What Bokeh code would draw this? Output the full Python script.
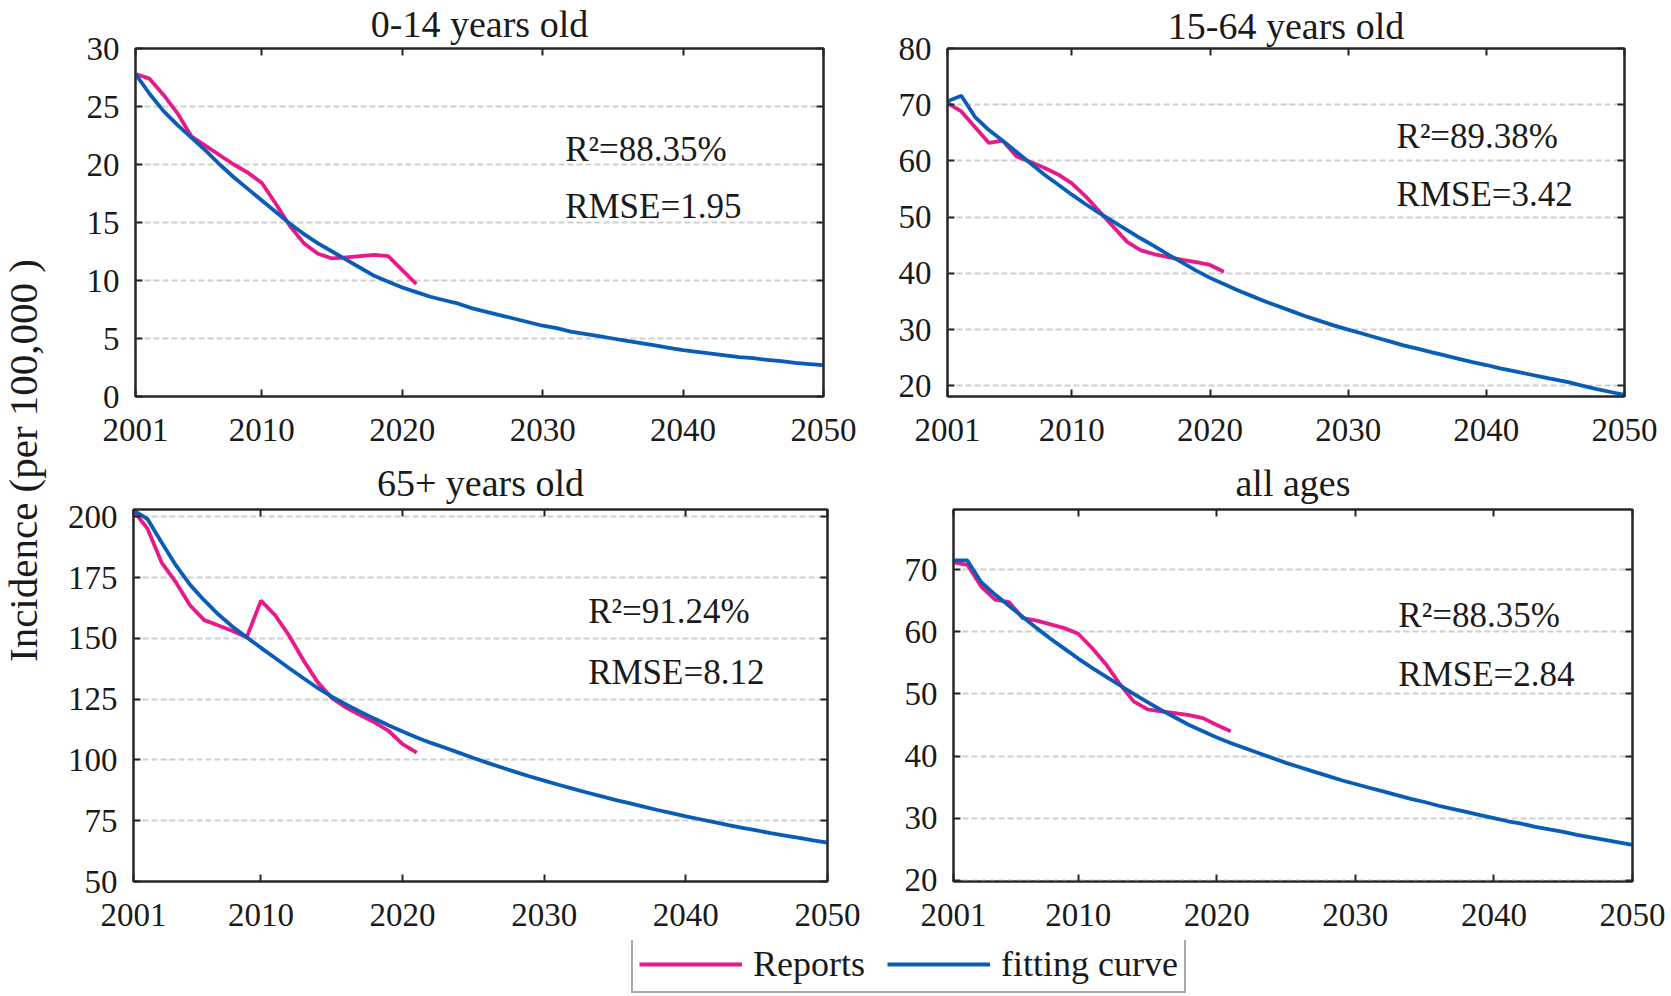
import math
from bokeh.plotting import figure
from bokeh.models import LinearAxis, FixedTicker, Label, Legend, LegendItem, Range1d
from bokeh.layouts import row, column
from bokeh.embed import file_html
from bokeh.resources import INLINE
from bokeh.core.properties import value

# ---------------- data ----------------
years_report = list(range(2001, 2022))
years_fit = list(range(2001, 2051))
x_ticks = [2001, 2010, 2020, 2030, 2040, 2050]

titles = ["0-14 years old", "15-64 years old", "65+ years old", "all ages"]
r2_text = ["R\u00b2=88.35%", "R\u00b2=89.38%", "R\u00b2=91.24%", "R\u00b2=88.35%"]
rmse_text = ["RMSE=1.95", "RMSE=3.42", "RMSE=8.12", "RMSE=2.84"]

rep_0_14 = [27.8, 27.4, 26.0, 24.4, 22.4, 21.6, 20.8, 20.0, 19.3, 18.4, 16.6,
            14.7, 13.2, 12.3, 11.9, 12.0, 12.1, 12.2, 12.1, 10.9, 9.7]
fit_0_14 = [27.8, 26.1, 24.6, 23.4, 22.3, 21.2, 20.0, 18.9, 17.9, 16.9,
            15.9, 14.9, 14.0, 13.2, 12.5, 11.8, 11.1, 10.4, 9.9, 9.4,
            9.0, 8.6, 8.3, 8.0, 7.6, 7.3, 7.0, 6.7, 6.4, 6.1,
            5.9, 5.6, 5.4, 5.2, 5.0, 4.8, 4.6, 4.4, 4.2, 4.0,
            3.85, 3.7, 3.55, 3.4, 3.3, 3.15, 3.05, 2.9, 2.8, 2.7]

rep_15_64 = [70.3, 68.8, 66.0, 63.2, 63.6, 60.8, 59.8, 58.8, 57.6, 56.0, 53.7,
             51.0, 48.3, 45.6, 44.1, 43.4, 42.9, 42.4, 42.0, 41.5, 40.3]
fit_15_64 = [70.6, 71.6, 67.8, 65.5, 63.6, 61.6, 59.6, 57.6, 55.8, 54.0,
             52.3, 50.7, 49.2, 47.7, 46.2, 44.8, 43.3, 41.9, 40.5, 39.2,
             38.1, 37.0, 36.0, 35.0, 34.1, 33.2, 32.3, 31.5, 30.7, 30.0,
             29.3, 28.6, 27.9, 27.2, 26.6, 26.0, 25.4, 24.8, 24.2, 23.7,
             23.1, 22.6, 22.1, 21.6, 21.1, 20.6, 20.0, 19.4, 18.9, 18.4]

rep_65 = [202.5, 195.0, 181.0, 173.0, 163.5, 157.5, 155.3, 153.0, 150.5, 165.5, 159.5,
          151.0, 141.0, 132.0, 125.5, 121.5, 118.5, 115.5, 112.0, 106.5, 103.0]
fit_65 = [202.7, 199.0, 189.3, 180.0, 172.0, 165.6, 159.8, 154.8, 150.4, 146.1,
          141.9, 137.7, 133.6, 129.6, 126.0, 122.8, 119.8, 117.0, 114.3, 111.7,
          109.2, 107.0, 105.0, 102.9, 100.8, 98.8, 96.9, 95.0, 93.2, 91.5,
          89.8, 88.2, 86.6, 85.1, 83.6, 82.2, 80.8, 79.4, 78.1, 76.8,
          75.6, 74.4, 73.2, 72.1, 71.0, 69.9, 68.9, 67.9, 66.9, 66.0]

rep_all = [71.2, 70.8, 67.3, 65.2, 64.8, 62.2, 61.8, 61.2, 60.6, 59.7, 57.4,
           54.8, 51.6, 48.8, 47.5, 47.2, 46.9, 46.6, 46.1, 45.0, 44.0]
fit_all = [71.5, 71.5, 68.0, 66.0, 64.2, 62.4, 60.6, 58.9, 57.3, 55.7,
           54.2, 52.8, 51.4, 50.0, 48.7, 47.4, 46.2, 45.0, 44.0, 43.0,
           42.1, 41.3, 40.5, 39.7, 38.9, 38.2, 37.5, 36.8, 36.1, 35.5,
           34.9, 34.3, 33.7, 33.1, 32.6, 32.0, 31.5, 31.0, 30.5, 30.0,
           29.5, 29.1, 28.6, 28.2, 27.8, 27.3, 26.9, 26.5, 26.1, 25.7]

y_ranges = [(0, 30), (18.1, 80), (50, 203), (19.8, 79.7)]
y_ticks = [[0, 5, 10, 15, 20, 25, 30],
           [20, 30, 40, 50, 60, 70, 80],
           [50, 75, 100, 125, 150, 175, 200],
           [20, 30, 40, 50, 60, 70]]
reports = [rep_0_14, rep_15_64, rep_65, rep_all]
fits = [fit_0_14, fit_15_64, fit_65, fit_all]

# annotation anchors (data coords: left x, centre y of R2 line, centre y of RMSE line)
ann_pos = [(2031.6, 21.3, 16.4), (2033.5, 64.4, 54.1), (2033.1, 160.9, 136.0), (2033.1, 62.6, 53.2)]

# ---------------- style ----------------
FONT = "Liberation Serif"
PINK = "#e8198b"
BLUE = "#0a5db6"
AXC = "#262626"
TXT = "#1a1a1a"

# (width, left, frame_w, top, frame_h, bottom, title_standoff)
geoms = [(820, 75, 688, 48, 348, 59, 3),
         (790, 67, 677, 43, 354, 58, 0),
         (820, 73, 694, 54, 372, 59, 7),
         (790, 73, 679, 52, 374, 59, 7)]


def style_axis(ax, labels=True):
    ax.axis_line_color = AXC
    ax.axis_line_width = 2
    ax.major_tick_line_color = AXC
    ax.major_tick_line_width = 2
    ax.major_tick_in = 7
    ax.major_tick_out = 0
    ax.minor_tick_line_color = None
    ax.major_label_text_font = FONT
    ax.major_label_text_color = TXT
    if labels:
        ax.major_label_text_font_size = "33px"
    else:
        ax.major_label_text_font_size = "0px"
        ax.major_label_text_color = None
        ax.major_label_standoff = 0


def make_panel(i):
    width, left, fw, top, fh, bottom, tstand = geoms[i]
    right = width - left - fw
    p = figure(width=width, height=top + fh + bottom,
               x_range=Range1d(2001, 2050), y_range=Range1d(*y_ranges[i]),
               output_backend="svg", toolbar_location=None,
               min_border_left=left, min_border_right=right,
               min_border_top=top, min_border_bottom=bottom,
               title=titles[i])
    p.title.text_font = FONT
    p.title.text_font_size = "38px"
    p.title.text_font_style = "normal"
    p.title.text_color = TXT
    p.title.align = "center"
    p.title.vertical_align = "top"
    p.title.standoff = tstand
    p.background_fill_color = "white"
    p.border_fill_color = "white"
    p.outline_line_color = AXC
    p.outline_line_width = 2

    p.xaxis.ticker = FixedTicker(ticks=x_ticks)
    p.yaxis.ticker = FixedTicker(ticks=y_ticks[i])
    style_axis(p.xaxis[0])
    style_axis(p.yaxis[0])
    p.xaxis.major_label_standoff = 22
    p.yaxis.major_label_standoff = 16

    top_ax = LinearAxis(ticker=FixedTicker(ticks=x_ticks))
    style_axis(top_ax, labels=False)
    p.add_layout(top_ax, "above")
    right_ax = LinearAxis(ticker=FixedTicker(ticks=y_ticks[i]))
    style_axis(right_ax, labels=False)
    p.add_layout(right_ax, "right")

    p.xgrid.visible = False
    p.ygrid.grid_line_color = "#cfcfcf"
    p.ygrid.grid_line_width = 2
    p.ygrid.grid_line_dash = "6 3"

    p.line(years_report, reports[i], line_color=PINK, line_width=3.8)
    p.line(years_fit, fits[i], line_color=BLUE, line_width=3.8)

    ax_, y1, y2 = ann_pos[i]
    for txt, yy in ((r2_text[i], y1), (rmse_text[i], y2)):
        p.add_layout(Label(x=ax_, y=yy, text=txt, text_font=FONT, text_font_size="35px",
                           text_color=TXT, text_baseline="middle", text_align="left"))
    return p


panels = [make_panel(i) for i in range(4)]

rows_h = 455 + 485

# y label figure
yl = figure(width=60, height=rows_h, x_range=Range1d(0, 60), y_range=Range1d(0, rows_h),
            output_backend="svg", toolbar_location=None, min_border=0,
            x_axis_location=None, y_axis_location=None)
yl.grid.visible = False
yl.outline_line_color = None
yl.text(x=[22], y=[rows_h - 460], text=["Incidence (per 100,000 )"], angle=math.pi / 2,
        text_align="center", text_baseline="alphabetic", text_font=value(FONT),
        text_font_size=value("41px"), text_color=TXT)

# legend figure
lf = figure(width=1670, height=55, x_range=Range1d(0, 1), y_range=Range1d(0, 1),
            output_backend="svg", toolbar_location=None, min_border=0,
            x_axis_location=None, y_axis_location=None)
lf.grid.visible = False
lf.outline_line_color = None
r_rep = lf.line([-10, -9], [-10, -9], line_color=PINK, line_width=3.8)
r_fit = lf.line([-10, -9], [-10, -9], line_color=BLUE, line_width=3.8)
legend = Legend(items=[LegendItem(label="Reports", renderers=[r_rep]),
                       LegendItem(label="fitting curve", renderers=[r_fit])],
                orientation="horizontal", location=(631, 2), margin=0, padding=6,
                glyph_width=103, glyph_height=30, label_standoff=11, spacing=22,
                border_line_color="#555555", border_line_width=2,
                label_text_font=FONT, label_text_font_size="36px", label_text_color=TXT,
                background_fill_color="white", background_fill_alpha=1.0)
lf.add_layout(legend)

layout = column(row(yl, column(row(panels[0], panels[1]), row(panels[2], panels[3]))), lf)

open("out.html", "w").write(file_html(layout, INLINE))
